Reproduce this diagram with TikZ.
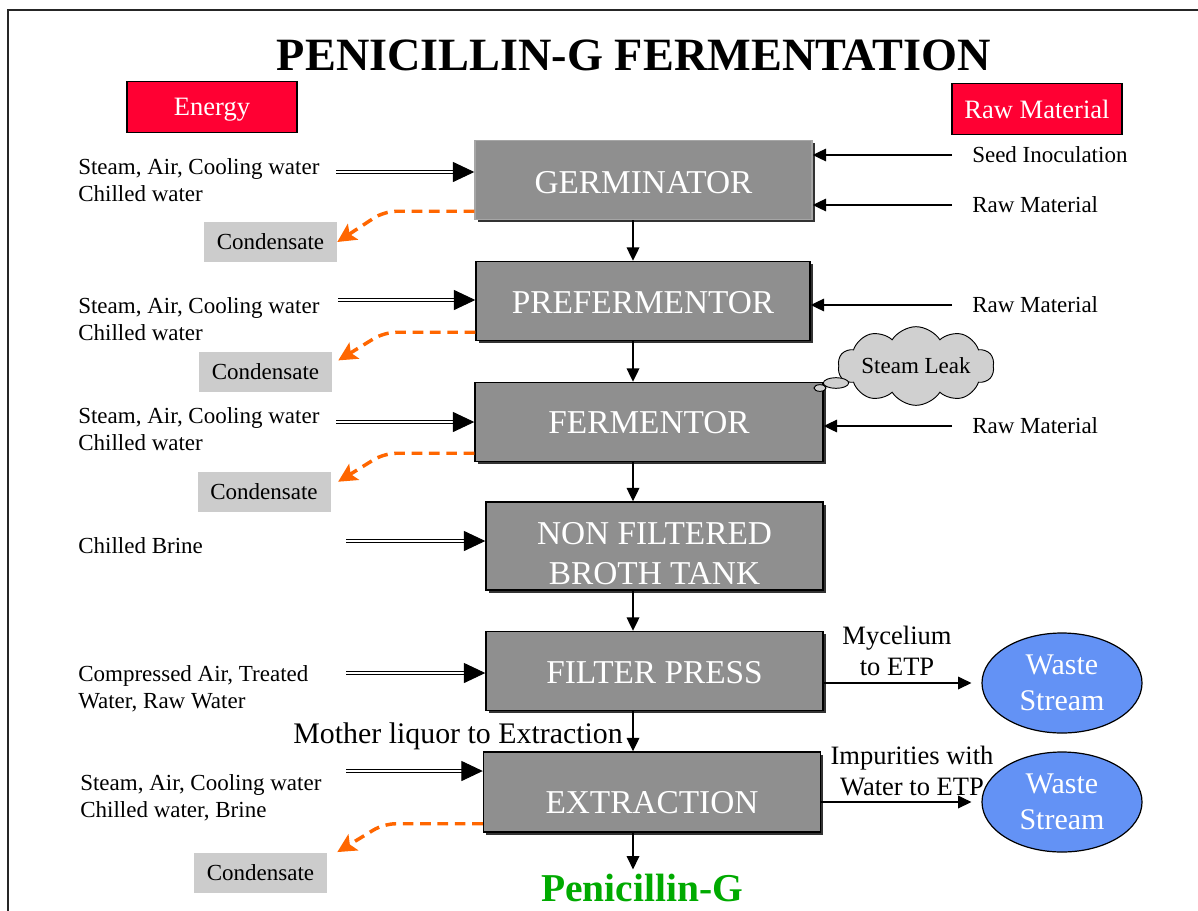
\documentclass[tikz,border=0pt]{standalone}
\usepackage{fontspec}
\setmainfont{Liberation Serif}
\usepackage{tikz}
\usetikzlibrary{arrows.meta,calc,positioning,shapes.geometric,shapes.symbols,shadows}
\definecolor{stagegray}{RGB}{143,143,143}
\definecolor{alertred}{RGB}{255,0,51}
\definecolor{condorange}{RGB}{255,102,0}
\definecolor{condgray}{RGB}{204,204,204}
\definecolor{leakgray}{RGB}{208,208,208}
\definecolor{wasteblue}{RGB}{99,146,245}
\definecolor{prodgreen}{RGB}{0,170,0}
\tikzstyle{stage}=[
  draw=black,
  line width=1.1pt,
  fill=stagegray,
  text=white,
  font={\fontsize{25}{30}\selectfont},
  align=center,
  inner sep=0pt,
  text height=19.5pt,
  minimum width=252.75pt,
  minimum height=59.25pt,
  drop shadow={shadow xshift=2pt, shadow yshift=-2pt, fill=black!80, opacity=1},
]
\tikzstyle{header}=[
  draw=black,
  line width=0.9pt,
  fill=alertred,
  text=white,
  font={\fontsize{19.9}{24}\selectfont},
  text depth=0pt,
  minimum width=127.5pt,
  minimum height=38pt,
]
\tikzstyle{note}=[
  font={\fontsize{17.25}{20.25}\selectfont},
  align=left,
  anchor=west,
  inner sep=0pt,
]
\tikzstyle{flowlabel}=[
  font={\fontsize{19.9}{23.25}\selectfont},
  align=center,
  inner sep=0pt,
]
\tikzstyle{condbox}=[
  fill=condgray,
  font={\fontsize{17.25}{20.25}\selectfont},
  minimum width=99.75pt,
  minimum height=30pt,
  inner sep=0pt,
]
\tikzstyle{waste}=[
  ellipse,
  draw=black,
  line width=0.9pt,
  fill=wasteblue,
  text=white,
  font={\fontsize{22.5}{27}\selectfont},
  align=center,
  inner sep=0pt,
  minimum width=120pt,
  minimum height=75pt,
]
\tikzstyle{flowline}=[
  draw=black,
  line width=0.9pt,
]
\tikzstyle{feed}=[
  draw=black,
  double,
  double distance=1.4pt,
  line width=0.7pt,
  -{Triangle[length=16pt,width=15pt]},
]
\tikzstyle{condensate}=[
  draw=condorange,
  line width=2.6pt,
  dash pattern=on 8pt off 5pt,
  rounded corners=9pt,
  -{Stealth[length=14pt,width=14pt,inset=3pt]},
]
\tikzstyle{puff}=[
  ellipse,
  draw=black,
  line width=0.7pt,
  fill=leakgray,
  inner sep=0pt,
]
\tikzset{
  x=0.75pt,
  y=-0.75pt,
  >={Triangle[length=10pt,width=9.5pt]},
}
\begin{document}
\begin{tikzpicture}
  \useasboundingbox (0,0) rectangle (1198,910);
  \draw [line width=1.8pt, black!85] (8,912) -- (8,10) -- (1200,10);
  \node (title) at (634,55) [font={\fontsize{34.7}{40}\selectfont\bfseries}] {PENICILLIN-G FERMENTATION};
  \node (energy) at (212,107) [header] {Energy};
  \node (rawmat) at (1037,109) [header] {Raw Material};

  \node (germ) at (643.5,180) [stage, draw=black!35, text height=21pt] {GERMINATOR};
  \node (preferm) at (643,301) [stage, minimum width=250.5pt] {PREFERMENTOR};
  \node (ferm) at (649,422) [stage, minimum width=261pt, text height=18pt] {FERMENTOR};
  \node (broth) at (654.5,546) [stage, minimum height=66pt, text height={}] {\rule{0pt}{28.5pt}NON FILTERED\\BROTH TANK};
  \node (press) at (654.5,671) [stage] {FILTER PRESS};
  \node (extract) at (652,792) [stage, minimum height=60pt, text height=33pt] {EXTRACTION};
  \node (product) at (642,888) [font={\fontsize{29.6}{34}\selectfont\bfseries}, text=prodgreen] {Penicillin-G};

  \node (germin) at (78,180) [note] {Steam, Air, Cooling water\\Chilled water};
  \node (prefermin) at (78,319) [note] {Steam, Air, Cooling water\\Chilled water};
  \node (fermin) at (78,429) [note] {Steam, Air, Cooling water\\Chilled water};
  \node (brothin) at (78,546) [note] {Chilled Brine};
  \node (pressin) at (78,689) [note] {Compressed Air, Treated\\Water, Raw Water};
  \node (extractin) at (80,797.5) [note] {Steam, Air, Cooling water\\Chilled water, Brine};

  \node (condgerm) at (270.5,242) [condbox] {Condensate};
  \node (condpreferm) at (265.5,372) [condbox] {Condensate};
  \node (condferm) at (264,492) [condbox] {Condensate};
  \node (condextract) at (260.5,873) [condbox] {Condensate};

  \node (seed) at (972,155) [note] {Seed Inoculation};
  \node (rawgerm) at (972,205) [note] {Raw Material};
  \node (rawpreferm) at (972,305) [note] {Raw Material};
  \node (rawferm) at (972,426) [note] {Raw Material};

  \node (leak) at (916,366) [cloud, cloud puffs=10, cloud puff arc=115, aspect=2.8, draw=black, line width=0.7pt, fill=leakgray, minimum width=110pt, minimum height=43pt, inner sep=0pt, font={\fontsize{17.25}{20}\selectfont}] {Steam Leak};
  \node (leakpuffa) at (836,383) [puff, minimum width=19pt, minimum height=8pt] {};
  \node (leakpuffb) at (820,388) [puff, minimum width=9pt, minimum height=5pt] {};

  \node (wastepress) at (1062,683) [waste] {Waste\\Stream};
  \node (wasteextract) at (1062,802) [waste] {Waste\\Stream};
  \node (mycel) at (897,651) [flowlabel] {Mycelium\\to ETP};
  \node (impur) at (912,771) [flowlabel] {Impurities with\\Water to ETP};
  \node (liquor) at (623,736) [anchor=east, inner sep=0pt, font={\fontsize{22.4}{26}\selectfont}] {Mother liquor to Extraction};

  \coordinate (spine) at (633,0);
  \foreach \a/\b in {germ/preferm, preferm/ferm, ferm/broth, broth/press, press/extract, extract/product}
    \draw [->, flowline] (\a.south -| spine) -- (\b.north -| spine);

  \foreach \stg/\sx/\sy in {germ/336/172, preferm/338/300, ferm/336/422, broth/346/541, press/346/673, extract/346/771} {
    \coordinate (feed\stg) at (\sx,\sy);
    \draw [feed] (feed\stg) -- (\stg.west |- feed\stg);
  }

  \draw [->, flowline] ([xshift=-15pt]seed.west) -- (germ.east |- seed.west);
  \draw [->, flowline] ([xshift=-15pt]rawgerm.west) -- (germ.east |- rawgerm.west);
  \draw [->, flowline] ([xshift=-15pt]rawpreferm.west) -- (preferm.east |- rawpreferm.west);
  \draw [->, flowline] ([xshift=-15pt]rawferm.west) -- (ferm.east |- rawferm.west);

  \draw [->, flowline, shorten >=7.5pt] (press.east |- wastepress) -- (wastepress.west);
  \draw [->, flowline, shorten >=7.5pt] (extract.east |- wasteextract) -- (wasteextract.west);

  \draw [condensate] ([yshift=6.75pt]germ.south west) -- ++(-90,0) -- (condgerm.east);
  \draw [condensate] ([yshift=6.75pt]preferm.south west) -- ++(-91,0) -- ([shift={(4.5pt,-6.5pt)}]condpreferm.north east);
  \draw [condensate] ([yshift=6.75pt]ferm.south west) -- ++(-90,0) -- ([shift={(5.5pt,-7.5pt)}]condferm.north east);
  \draw [condensate] ([yshift=6.75pt]extract.south west) -- ++(-99,0) -- ([shift={(7.5pt,0.5pt)}]condextract.north east);
\end{tikzpicture}
\end{document}
